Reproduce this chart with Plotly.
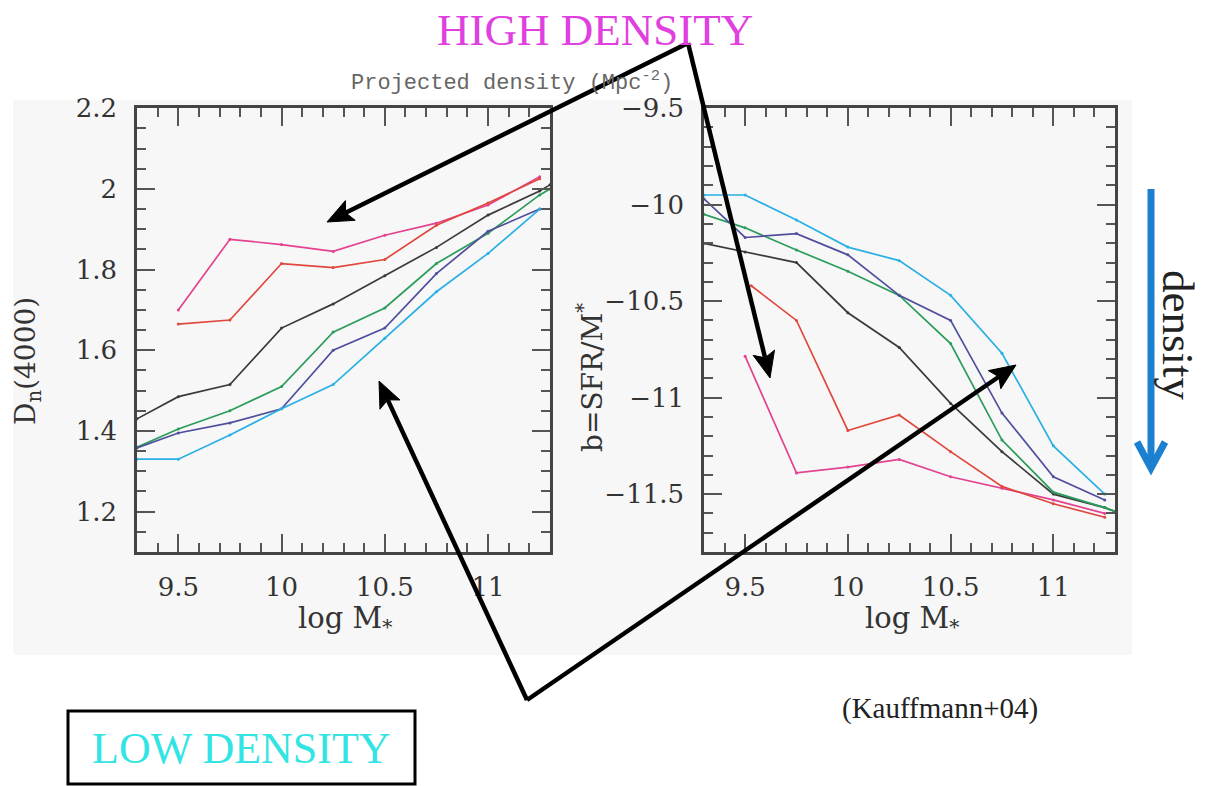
import math
import plotly.graph_objects as go

# Stellar mass grid (log M*) for each density bin
mass_hi = [9.5, 9.75, 10.0, 10.25, 10.5, 10.75, 11.0, 11.25]
mass_red_sfr = [9.53, 9.75, 10.0, 10.25, 10.5, 10.75, 11.0, 11.25]
mass_full = [9.3, 9.5, 9.75, 10.0, 10.25, 10.5, 10.75, 11.0, 11.25, 11.3]
mass_low = [9.3, 9.5, 9.75, 10.0, 10.25, 10.5, 10.75, 11.0, 11.25]

# D_n(4000) versus mass, one curve per projected-density bin
dn_magenta = [1.70, 1.875, 1.862, 1.845, 1.885, 1.915, 1.96, 2.03]
dn_red = [1.665, 1.675, 1.815, 1.805, 1.825, 1.91, 1.965, 2.025]
dn_black = [1.43, 1.485, 1.515, 1.655, 1.715, 1.785, 1.855, 1.935, 1.995, 2.01]
dn_green = [1.36, 1.405, 1.45, 1.51, 1.645, 1.705, 1.815, 1.89, 1.985, 2.0]
dn_blue = [1.358, 1.395, 1.42, 1.455, 1.60, 1.655, 1.79, 1.895, 1.95]
dn_cyan = [1.33, 1.33, 1.39, 1.455, 1.515, 1.63, 1.745, 1.84, 1.95]

# b = SFR/M* versus mass
b_magenta = [-10.785, -11.39, -11.36, -11.32, -11.41, -11.47, -11.53, -11.6]
b_red = [-10.42, -10.60, -11.17, -11.09, -11.28, -11.46, -11.55, -11.62]
b_black = [-10.20, -10.245, -10.30, -10.56, -10.74, -11.03, -11.28, -11.50, -11.57, -11.59]
b_green = [-10.05, -10.12, -10.235, -10.345, -10.47, -10.72, -11.22, -11.49, -11.57, -11.59]
b_blue = [-9.97, -10.17, -10.15, -10.26, -10.47, -10.60, -11.08, -11.41, -11.53]
b_cyan = [-9.95, -9.95, -10.08, -10.22, -10.29, -10.47, -10.77, -11.25, -11.50]

C_MAGENTA = "#e3428f"
C_RED = "#e0483e"
C_BLACK = "#3a3a3a"
C_GREEN = "#2b9c5a"
C_BLUE = "#4f4f9e"
C_CYAN = "#2ab0e4"

W, H = 1205, 786


def px(x):
    return x / W


def py(y):
    return 1 - y / H


fig = go.Figure()

left_series = [
    (mass_hi, dn_magenta, C_MAGENTA),
    (mass_hi, dn_red, C_RED),
    (mass_full, dn_black, C_BLACK),
    (mass_full, dn_green, C_GREEN),
    (mass_low, dn_blue, C_BLUE),
    (mass_low, dn_cyan, C_CYAN),
]
right_series = [
    (mass_hi, b_magenta, C_MAGENTA),
    (mass_red_sfr, b_red, C_RED),
    (mass_full, b_black, C_BLACK),
    (mass_full, b_green, C_GREEN),
    (mass_low, b_blue, C_BLUE),
    (mass_low, b_cyan, C_CYAN),
]

for xs, ys, col in left_series:
    fig.add_trace(go.Scatter(x=xs, y=ys, mode="lines+markers", xaxis="x", yaxis="y",
                             line=dict(color=col, width=1.7),
                             marker=dict(color=col, size=3), showlegend=False,
                             hoverinfo="skip"))
for xs, ys, col in right_series:
    fig.add_trace(go.Scatter(x=xs, y=ys, mode="lines+markers", xaxis="x2", yaxis="y2",
                             line=dict(color=col, width=1.7),
                             marker=dict(color=col, size=3), showlegend=False,
                             hoverinfo="skip"))

tick_font = dict(family="DejaVu Serif", size=26, color="#333")


def xaxis_style(domain, anchor):
    return dict(domain=domain, anchor=anchor, range=[9.3, 11.3],
                tick0=9.5, dtick=0.5, ticks="inside", ticklen=18, tickwidth=2,
                tickcolor="#555", showline=True, linewidth=2.5, linecolor="#444",
                mirror="ticks", showgrid=False, zeroline=False,
                tickfont=tick_font, ticklabelstandoff=10, automargin=False,
                minor=dict(dtick=0.1, tick0=9.5, ticks="inside", ticklen=9,
                           tickwidth=1.5, tickcolor="#555"))


def yaxis_style(domain, anchor, rng, dtick, tick0, minor_dt):
    return dict(domain=domain, anchor=anchor, range=rng, tick0=tick0, dtick=dtick,
                ticks="inside", ticklen=18, tickwidth=2, tickcolor="#555",
                showline=True, linewidth=2.5, linecolor="#444", mirror="ticks",
                showgrid=False, zeroline=False, tickfont=tick_font,
                ticklabelstandoff=12, automargin=False,
                minor=dict(dtick=minor_dt, tick0=tick0, ticks="inside", ticklen=9,
                           tickwidth=1.5, tickcolor="#555"))


ydom = [py(552), py(108)]

fig.update_layout(
    width=W, height=H,
    margin=dict(l=0, r=0, t=0, b=0, pad=0, autoexpand=False),
    paper_bgcolor="white",
    plot_bgcolor="rgba(0,0,0,0)",
    xaxis=xaxis_style([px(137), px(550)], "y"),
    yaxis=yaxis_style(ydom, "x", [1.1, 2.2005], 0.2, 1.2, 0.05),
    xaxis2=xaxis_style([px(704), px(1115)], "y2"),
    yaxis2=yaxis_style(ydom, "x2", [-11.8, -9.499], 0.5, -9.5, 0.1),
)

# Light panel behind the two plots
fig.add_shape(type="rect", xref="paper", yref="paper",
              x0=px(13), x1=px(1132), y0=py(655), y1=py(100),
              fillcolor="#f7f7f7", line=dict(width=0), layer="below")

# Box around the low-density label
fig.add_shape(type="rect", xref="paper", yref="paper",
              x0=px(68), x1=px(415), y0=py(784), y1=py(711),
              fillcolor="white", line=dict(color="black", width=3))

# Blue "increasing density" arrow with a chevron head
fig.add_shape(type="line", xref="paper", yref="paper",
              x0=px(1151), x1=px(1151), y0=py(189), y1=py(466),
              line=dict(color="#1b80d0", width=7))
fig.add_shape(type="path", xref="paper", yref="paper",
              path=f"M {px(1137)},{py(442)} L {px(1151)},{py(468)} L {px(1165)},{py(442)}",
              line=dict(color="#1b80d0", width=7))


def black_arrow(tip, tail, head_len=26, half_w=11):
    """Thick black line from tail to tip with a filled, slightly notched head."""
    dx, dy = tip[0] - tail[0], tip[1] - tail[1]
    d = math.hypot(dx, dy)
    ux, uy = dx / d, dy / d
    nx, ny = -uy, ux
    base = (tip[0] - head_len * ux, tip[1] - head_len * uy)
    notch = (tip[0] - 0.8 * head_len * ux, tip[1] - 0.8 * head_len * uy)
    fig.add_shape(type="line", xref="paper", yref="paper",
                  x0=px(tail[0]), y0=py(tail[1]), x1=px(notch[0]), y1=py(notch[1]),
                  line=dict(color="black", width=4.5))
    pts = [tip,
           (base[0] + half_w * nx, base[1] + half_w * ny),
           notch,
           (base[0] - half_w * nx, base[1] - half_w * ny)]
    path = "M " + " L ".join(f"{px(a)},{py(b)}" for a, b in pts) + " Z"
    fig.add_shape(type="path", xref="paper", yref="paper", path=path,
                  fillcolor="black", line=dict(color="black", width=1))


black_arrow((327, 222), (688, 43))
black_arrow((770, 378), (688, 43))
black_arrow((379, 381), (527, 700))
black_arrow((1016, 365), (527, 700))

annotations = []


def text(x, y, s, size, color, family, angle=0, xanchor="center", yanchor="middle"):
    annotations.append(dict(x=px(x), y=py(y), xref="paper", yref="paper", text=s,
                            showarrow=False, textangle=angle, xanchor=xanchor,
                            yanchor=yanchor,
                            font=dict(size=size, color=color, family=family)))


text(595, 30, "HIGH DENSITY", 45, "#e040e0", "Liberation Serif")
text(241, 748, "LOW DENSITY", 44, "#33e4e4", "Liberation Serif")
text(512, 82, "Projected density (Mpc<sup>-2</sup>)", 22, "#666", "Liberation Mono")
text(940, 708, "(Kauffmann+04)", 29, "#222", "Liberation Serif")
text(1178, 335, "density", 45, "#222", "Liberation Serif", angle=90)
text(27, 361, "D<sub>n</sub>(4000)", 28, "#333", "DejaVu Serif", angle=-90)
text(590, 378, "b=SFR/M<sup>*</sup>", 28, "#333", "DejaVu Serif", angle=-90)
text(345, 620, "log M<sub>*</sub>", 29, "#333", "DejaVu Serif")
text(912, 620, "log M<sub>*</sub>", 29, "#333", "DejaVu Serif")

fig.update_layout(annotations=annotations)

fig.write_html("out.html")
